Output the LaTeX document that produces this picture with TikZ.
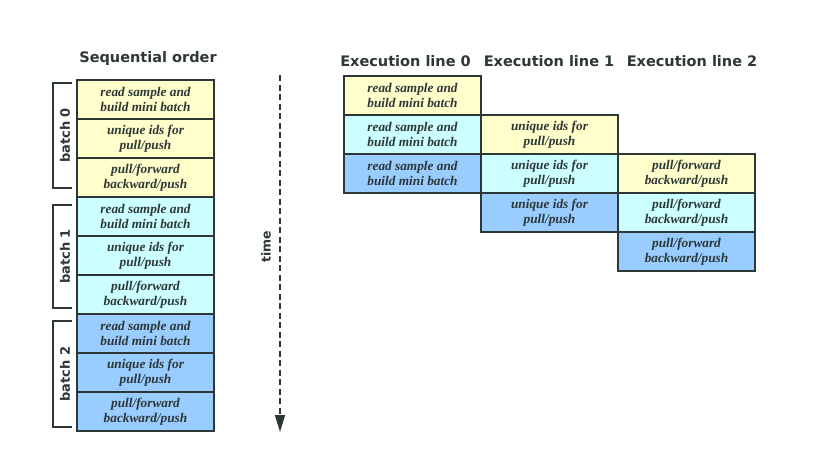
\documentclass[tikz,border=0pt]{standalone}
\usepackage{fontspec}
\setmainfont{Liberation Serif}
\setsansfont{DejaVu Sans}
\usetikzlibrary{arrows.meta, positioning}
\definecolor{batchzero}{RGB}{255,255,204}
\definecolor{batchone}{RGB}{204,255,255}
\definecolor{batchtwo}{RGB}{153,204,255}
\definecolor{ink}{RGB}{45,55,55}
\newcommand{\stagetext}[1]{\ifcase#1 read sample and\\build mini batch\or unique ids for\\pull/push\or pull/forward\\backward/push\fi}

\begin{document}
\begin{tikzpicture}[
    x=1pt, y=-1pt,
    stage/.style={draw=ink, line width=1.7pt, minimum width=137pt, minimum height=39pt,
        inner sep=0pt, outer sep=0pt, align=center, text=ink,
        font=\fontsize{13.3}{14.5}\selectfont\bfseries\itshape},
    heading/.style={text=ink, font=\fontsize{14.5}{16}\selectfont\sffamily\bfseries},
    sidelabel/.style={text=ink, rotate=90, font=\fontsize{13}{15}\selectfont\sffamily\bfseries},
    brace/.style={draw=ink, line width=1.7pt},
    timeline/.style={draw=ink, line width=1.7pt, dash pattern=on 6pt off 3.5pt,
        -{Triangle[length=17pt, width=10pt]}}
]
\useasboundingbox (0,0) rectangle (827,464);

% Titel
\node[heading] (seqtitle) at (148,58) {Sequential order};
\node[heading] (linetitle0) at (405.5,61) {Execution line 0};
\node[heading] (linetitle1) at (549,61) {Execution line 1};
\node[heading] (linetitle2) at (692,61) {Execution line 2};

% Sequentielle Reihenfolge
\foreach \b/\col in {0/batchzero, 1/batchone, 2/batchtwo} {
    \foreach \s in {0,1,2} {
        \pgfmathtruncatemacro\k{3*\b+\s}
        \node[stage, fill=\col] (seq\k) at (145.5, 99.5+39*\k) {\stagetext{\s}};
    }
}

% Klammern
\foreach \b/\top/\bot in {0/83/188, 1/205/308, 2/321/427} {
    \draw[brace] (72,\top) -- (53,\top) -- (53,\bot) -- (72,\bot);
    \node[sidelabel] (batch\b) at (65,{(\top+\bot)/2}) {batch \b};
}

% Zeitachse
\coordinate (timestart) at (280,75);
\coordinate (timeend) at (280,432);
\draw[timeline] (timestart) -- (timeend);
\node[sidelabel, font=\fontsize{12.5}{14}\selectfont\sffamily\bfseries] (timelabel) at (266,247) {time};

% Ausfuehrungslinien
\foreach \c in {0,1,2} {
    \foreach \b/\col in {0/batchzero, 1/batchone, 2/batchtwo} {
        \pgfmathtruncatemacro\r{\b+\c}
        \node[stage, fill=\col] (line\c-\b) at (412.5+137*\c, 95.5+39*\r) {\stagetext{\c}};
    }
}

\end{tikzpicture}
\end{document}
